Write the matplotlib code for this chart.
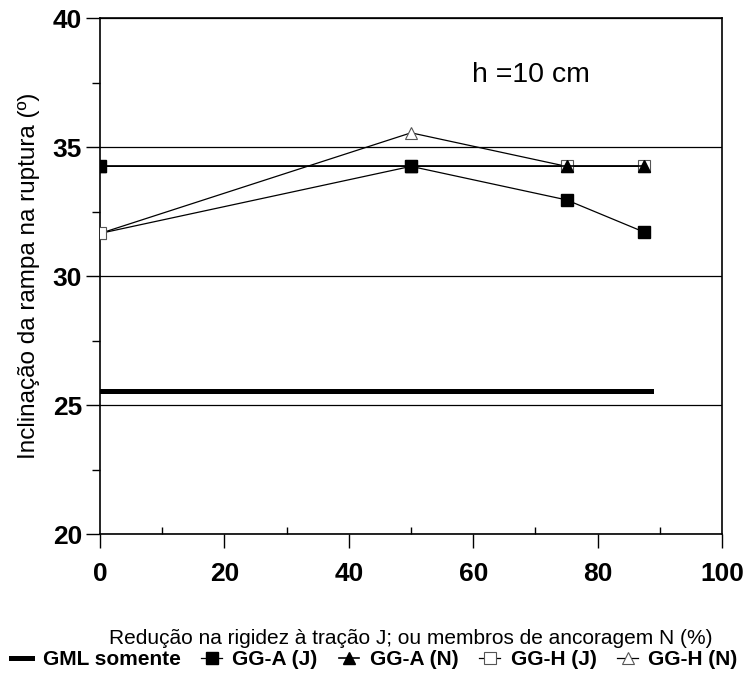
import matplotlib.pyplot as plt
import numpy as np
from matplotlib.ticker import MultipleLocator

plt.rcParams['font.family'] = ['Liberation Sans', 'DejaVu Sans']

# dados
x_gml = [0, 88.5]
y_gml = [25.55, 25.55]

x_pts = [0, 50, 75, 87.5]
gga_j = [34.25, 34.25, 32.95, 31.7]
gga_n = [34.25, 34.25, 34.25, 34.25]
ggh_j = [31.65, 34.25, 34.25, 34.25]
ggh_n = [31.65, 35.55, 34.25, 34.25]

fig = plt.figure(figsize=(7.49, 6.77), dpi=100)
ax = fig.add_axes([0.1335, 0.2112, 0.8305, 0.7622])

ax.plot(x_gml, y_gml, c='black', lw=3.6, label='GML somente', zorder=3)
ax.plot(x_pts, ggh_n, c='black', lw=0.9, marker='^', ms=8, mfc='white', mec='#555555',
        mew=0.8, label='GG-H (N)', zorder=3)
ax.plot(x_pts, ggh_j, c='black', lw=0.9, marker='s', ms=8, mfc='white', mec='#555555',
        mew=0.8, label='GG-H (J)', zorder=4)
ax.plot(x_pts, gga_n, c='black', lw=1.2, marker='^', ms=9, mfc='black', mec='black',
        label='GG-A (N)', zorder=5)
ax.plot(x_pts, gga_j, c='black', lw=0.9, marker='s', ms=8.5, mfc='black', mec='black',
        label='GG-A (J)', zorder=6)

ax.set_xlim(0, 100)
ax.set_ylim(20, 40)
ax.xaxis.set_major_locator(MultipleLocator(20))
ax.xaxis.set_minor_locator(MultipleLocator(10))
ax.yaxis.set_major_locator(MultipleLocator(5))
ax.yaxis.set_minor_locator(MultipleLocator(2.5))
ax.tick_params(axis='x', which='major', direction='out', length=10, width=1, pad=10)
ax.tick_params(axis='x', which='minor', direction='in', length=5, width=1)
ax.tick_params(axis='y', which='major', direction='out', length=10, width=1, pad=3)
ax.tick_params(axis='y', which='minor', direction='out', length=6, width=1)
for lab in ax.get_xticklabels() + ax.get_yticklabels():
    lab.set_fontweight('bold')
    lab.set_fontsize(19)
ax.grid(True, axis='y', which='major', color='black', lw=0.9)
for s in ax.spines.values():
    s.set_linewidth(1.2)

ax.set_xlabel('Redução na rigidez à tração J; ou membros de ancoragem N (%)', fontsize=15, labelpad=31)
ax.set_ylabel('Inclinação da rampa na ruptura (º)', fontsize=17.5, labelpad=9)
ax.text(69.2, 37.8, 'h =10 cm', fontsize=20.5, ha='center', va='center')

handles, labels = ax.get_legend_handles_labels()
order = [0, 4, 3, 2, 1]
fig.legend([handles[i] for i in order], [labels[i] for i in order], loc='lower center',
           bbox_to_anchor=(0.5, -0.016), ncol=5, frameon=False, handlelength=1.0,
           handletextpad=0.5, columnspacing=1.0, prop={'weight': 'bold', 'size': 15})

fig.savefig('out.png', dpi=100)
